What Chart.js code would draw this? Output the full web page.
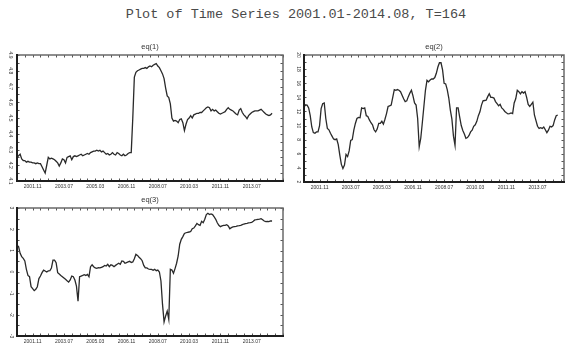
<!DOCTYPE html>
<html><head><meta charset="utf-8">
<script src="https://cdn.jsdelivr.net/npm/chart.js@4"></script>
<style>
html,body{margin:0;padding:0;background:#fff;width:565px;height:345px;overflow:hidden;}
#title{position:absolute;left:0;top:7px;width:592px;text-align:center;font:13.5px "Liberation Mono",monospace;color:#4a4a4a;white-space:nowrap;line-height:16px;}
canvas{position:absolute;}
</style></head><body>
<div id="title">Plot of Time Series 2001.01-2014.08, T=164</div>
<canvas id="c1" width="290" height="155" style="left:0;top:40px;width:290px;height:155px"></canvas>
<canvas id="c2" width="275" height="155" style="left:290px;top:40px;width:275px;height:155px"></canvas>
<canvas id="c3" width="290" height="150" style="left:0;top:195px;width:290px;height:150px"></canvas>
<script>
// x tick positions (month index from 2001.01) and their labels
const tickIdx = [10, 30, 50, 70, 90, 110, 130, 150];
const tickLabels = ['2001.11', '2003.07', '2005.03', '2006.11', '2008.07', '2010.03', '2011.11', '2013.07'];

const eq1 = [4.25,4.26,4.27,4.24,4.23,4.23,4.22,4.225,4.22,4.22,
4.215,4.215,4.21,4.215,4.21,4.21,4.19,4.17,4.15,4.20,
4.25,4.24,4.245,4.24,4.235,4.225,4.215,4.195,4.215,4.24,
4.235,4.215,4.25,4.255,4.26,4.235,4.255,4.26,4.255,4.26,
4.265,4.27,4.26,4.265,4.27,4.275,4.27,4.28,4.285,4.29,
4.29,4.295,4.29,4.295,4.285,4.29,4.28,4.27,4.275,4.265,
4.27,4.28,4.27,4.265,4.28,4.275,4.265,4.26,4.27,4.26,
4.265,4.275,4.28,4.28,4.50,4.76,4.79,4.80,4.805,4.81,
4.815,4.815,4.82,4.815,4.825,4.83,4.825,4.835,4.84,4.845,
4.83,4.82,4.80,4.78,4.75,4.69,4.64,4.63,4.59,4.50,
4.48,4.485,4.48,4.47,4.49,4.495,4.47,4.42,4.46,4.49,
4.50,4.515,4.50,4.52,4.525,4.53,4.53,4.535,4.535,4.545,
4.555,4.565,4.57,4.565,4.545,4.555,4.545,4.55,4.54,4.53,
4.525,4.53,4.535,4.54,4.555,4.565,4.555,4.55,4.545,4.535,
4.525,4.52,4.55,4.56,4.535,4.52,4.51,4.495,4.515,4.525,
4.535,4.54,4.545,4.545,4.545,4.55,4.555,4.545,4.535,4.525,
4.52,4.515,4.52,4.53];

const eq2 = [12.66,12.9,12.9,12.5,11.4,9.8,9.0,8.9,9.1,9.1,
10.0,12.4,13.1,13.2,11.0,9.6,9.4,8.9,8.5,8.1,
8.0,8.1,7.3,5.8,4.5,3.9,4.4,5.9,5.6,6.4,
7.9,8.0,9.35,10.3,11.0,11.15,11.1,12.5,12.4,12.5,
11.4,11.3,10.8,10.4,10.1,9.4,9.1,9.5,10.3,10.3,
10.6,10.2,10.9,11.7,12.7,12.8,12.9,14.0,15.1,15.0,
15.1,15.0,14.8,14.3,13.8,13.4,13.5,14.1,14.6,15.0,
14.2,13.2,12.9,11.0,7.0,8.2,10.4,12.7,15.0,16.4,
16.2,16.45,16.6,16.6,16.8,17.4,18.3,18.9,18.9,17.9,
16.0,15.9,15.1,13.9,12.2,10.9,8.5,7.2,12.5,12.5,
11.2,10.0,9.3,8.8,8.2,8.3,8.6,9.1,9.35,9.9,
10.1,10.6,11.4,11.95,12.9,13.5,13.55,13.6,14.1,14.5,
14.0,14.0,13.9,13.4,13.1,12.8,13.0,12.5,12.3,12.0,
11.8,11.65,11.7,11.8,11.7,13.2,13.8,15.0,14.8,14.5,
14.8,14.6,14.8,14.0,13.0,12.7,13.0,13.3,11.5,10.7,
9.9,9.6,9.7,9.6,9.8,9.4,9.0,9.35,9.9,9.8,
10.0,10.8,11.4,11.5];

const eq3 = [1.25,1.19,0.875,0.72,0.64,0.52,0.125,-0.16,-0.22,-0.69,
-0.78,-0.875,-0.81,-0.69,-0.31,-0.19,-0.03,0.09,0.05,0.0,
0.05,0.06,0.19,0.56,0.56,0.44,-0.03,-0.09,-0.16,-0.22,
-0.28,-0.34,-0.41,-0.47,-0.375,-0.19,-0.22,-0.375,-0.66,-1.37,
-0.22,-0.19,-0.16,-0.125,-0.16,-0.11,-0.22,0.25,0.34,0.25,
0.19,0.17,0.2,0.19,0.22,0.25,0.31,0.28,0.36,0.25,
0.34,0.31,0.25,0.31,0.36,0.41,0.36,0.52,0.5,0.41,
0.44,0.47,0.5,0.44,0.47,0.625,0.83,0.78,0.69,0.625,
0.53,0.31,0.19,0.19,0.14,0.125,0.125,0.08,0.125,0.06,
0.09,0.0,-0.42,-1.52,-2.34,-2.06,-1.83,-2.22,0.125,0.09,
-0.06,0.16,0.41,0.75,1.3,1.53,1.66,1.81,1.84,1.86,
1.875,1.9,2.03,2.06,2.16,2.28,2.22,2.19,2.375,2.31,
2.47,2.69,2.75,2.69,2.72,2.69,2.59,2.47,2.31,2.19,
2.125,2.16,2.19,2.19,2.22,2.16,2.03,2.08,2.11,2.125,
2.14,2.16,2.17,2.19,2.22,2.25,2.27,2.28,2.3,2.31,
2.33,2.375,2.44,2.45,2.47,2.48,2.5,2.45,2.39,2.36,
2.375,2.36,2.39,2.39];

const framePlugin = {
  id: 'frame',
  afterDatasetsDraw(chart, args, opts) {
    const {ctx, chartArea: a, scales: {x, y}} = chart;
    ctx.save();
    ctx.strokeStyle = '#555';
    ctx.lineWidth = 1;
    ctx.beginPath();
    for (let v = 0; v <= x.max + 1e-9; v += opts.xMinor) {
      const px = Math.round(x.getPixelForValue(v)) + 0.5;
      ctx.moveTo(px, a.top); ctx.lineTo(px, a.top + 2.5);
      ctx.moveTo(px, a.bottom); ctx.lineTo(px, a.bottom - 2.5);
    }
    for (let v = y.min; v <= y.max + 1e-9; v += opts.yMinor) {
      const py = Math.round(y.getPixelForValue(v)) + 0.5;
      ctx.moveTo(a.left, py); ctx.lineTo(a.left + 2.5, py);
      ctx.moveTo(a.right, py); ctx.lineTo(a.right - 2.5, py);
    }
    ctx.stroke();
    ctx.lineWidth = 1.5;
    ctx.strokeStyle = '#6a6a6a';
    ctx.strokeRect(a.left, a.top, a.right - a.left, a.bottom - a.top);
    ctx.lineWidth = 2;
    ctx.strokeStyle = '#1e1e1e';
    ctx.beginPath();
    ctx.moveTo(a.left, a.top - 1); ctx.lineTo(a.left, a.bottom); ctx.lineTo(a.right + 1, a.bottom);
    ctx.stroke();
    ctx.fillStyle = '#333';
    ctx.font = '7.5px "Liberation Sans", sans-serif';
    ctx.textAlign = 'center';
    ctx.textBaseline = 'middle';
    ctx.fillText(opts.text, (a.left + a.right) / 2, a.top - 8);
    ctx.restore();
  }
};

function makeChart(id, title, values, yMin, yMax, yStep, yMinor, dec, xMax, dims) {
  const pts = values.map((v, i) => ({x: i, y: v}));
  return new Chart(document.getElementById(id), {
    type: 'line',
    data: { datasets: [{ data: pts, borderColor: '#2a2a2a', borderWidth: 1.3, pointRadius: 0, tension: 0, fill: false }] },
    options: {
      responsive: false, animation: false, events: [],
      layout: { padding: { top: dims.top, right: dims.right, left: 0, bottom: 0 } },
      plugins: { legend: { display: false }, tooltip: { enabled: false }, title: { display: false },
        frame: { text: title, xMinor: 5, yMinor: yMinor } },
      scales: {
        x: {
          type: 'linear', min: 0, max: xMax,
          grid: { display: false, drawTicks: false }, border: { display: false },
          afterBuildTicks: s => { s.ticks = tickIdx.map(v => ({ value: v })); },
          afterFit: s => { s.height = dims.xh; },
          ticks: { padding: 3, autoSkip: false, maxRotation: 0, minRotation: 0, color: '#333',
            font: { family: '"Liberation Sans", sans-serif', size: 5 },
            callback: v => { const k = tickIdx.indexOf(v); return k >= 0 ? tickLabels[k] : ''; } }
        },
        y: {
          type: 'linear', min: yMin, max: yMax,
          grid: { display: false, drawTicks: false }, border: { display: false },
          afterFit: s => { s.width = dims.yw; },
          ticks: { stepSize: yStep, padding: 3, crossAlign: 'center', minRotation: -90, maxRotation: -90, color: '#333',
            font: { family: '"Liberation Sans", sans-serif', size: 5 },
            callback: v => Number(v.toFixed(dec)).toString() }
        }
      }
    },
    plugins: [framePlugin]
  });
}

makeChart('c1', 'eq(1)', eq1, 4.1, 4.9, 0.1, 0.05, 1, 170, { top: 15, right: 7, xh: 14, yw: 17 });
makeChart('c2', 'eq(2)', eq2, 2, 20, 2, 1, 0, 167, { top: 15, right: 1, xh: 13, yw: 14 });
makeChart('c3', 'eq(3)', eq3, -3, 3, 1, 0.5, 0, 170, { top: 13, right: 7, xh: 9, yw: 17 });
</script>
</body></html>
